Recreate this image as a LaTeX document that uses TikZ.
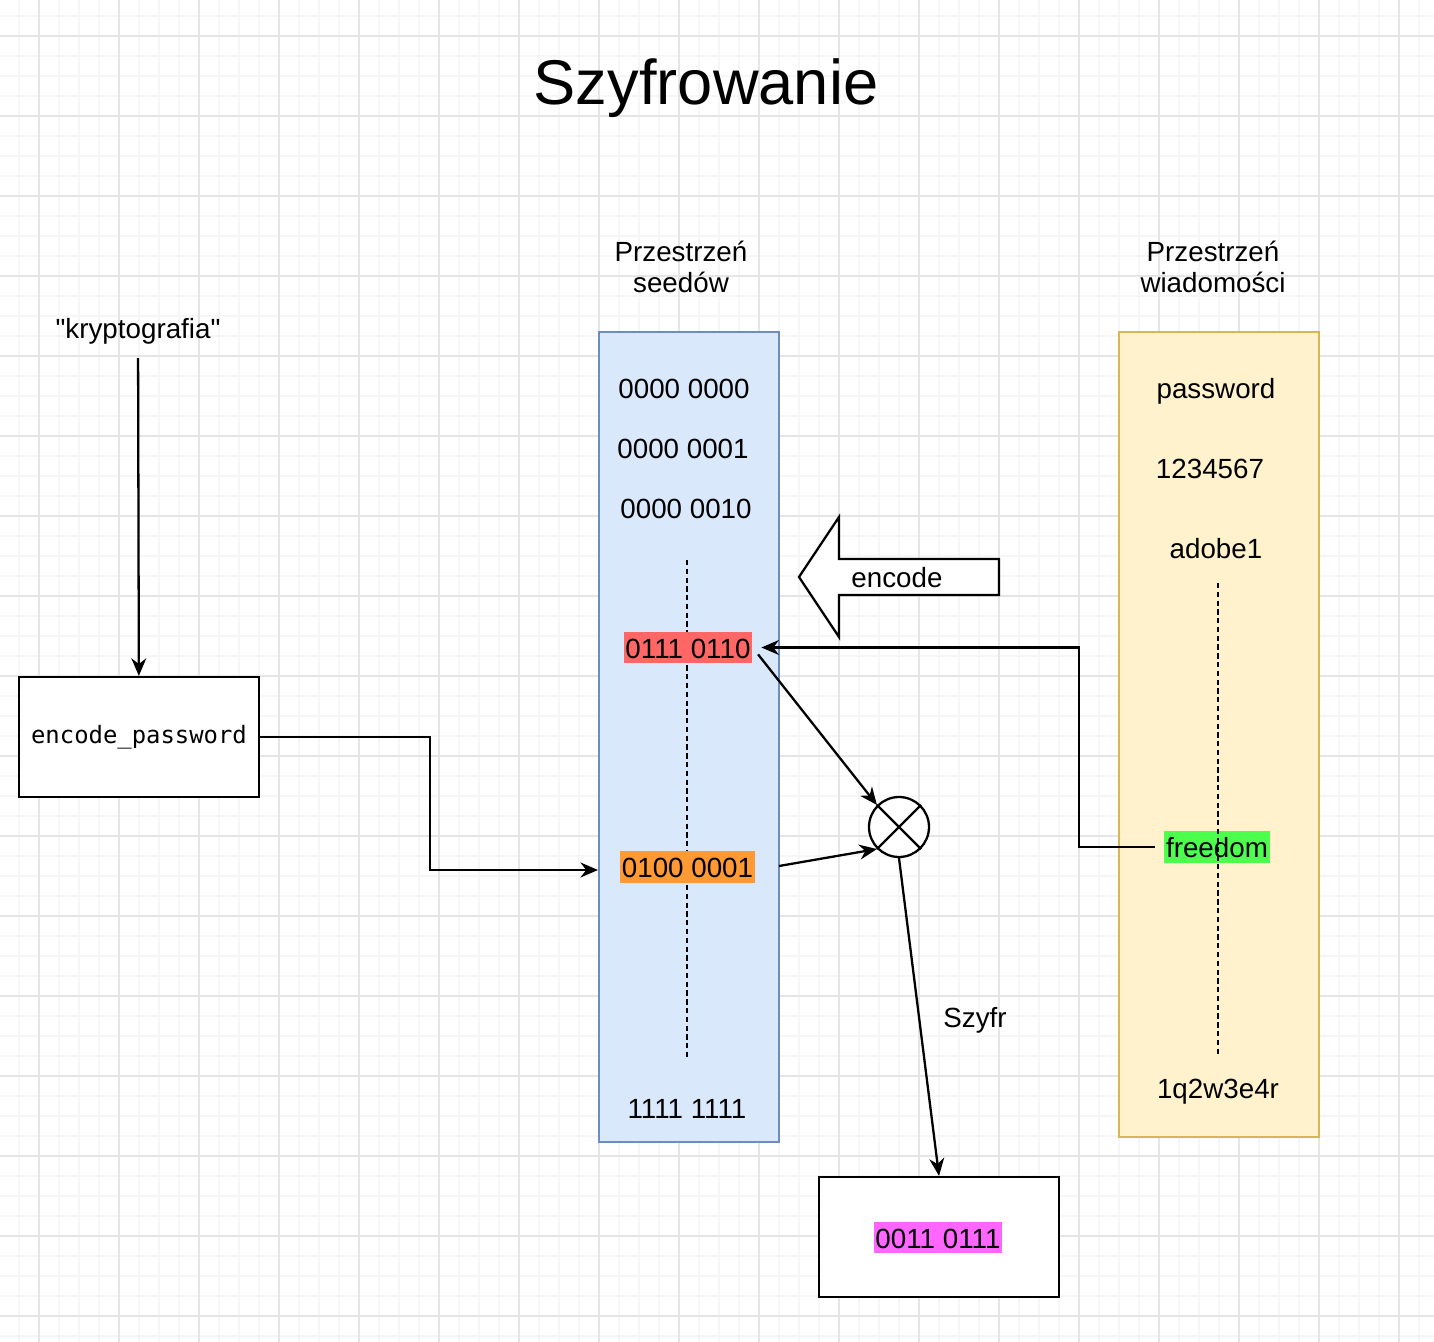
\documentclass[tikz,border=0pt]{standalone}
\usepackage{fontspec}
\setmainfont{Liberation Sans}[Ligatures=TeXOff]
\setmonofont{DejaVu Sans Mono}
\usetikzlibrary{arrows.meta}
\definecolor{seedfill}{HTML}{DAE8FC}
\definecolor{seedline}{HTML}{6C8EBF}
\definecolor{msgfill}{HTML}{FFF2CC}
\definecolor{msgline}{HTML}{D6B656}
\definecolor{hlred}{HTML}{FF6666}
\definecolor{hlorange}{HTML}{FF9933}
\definecolor{hlgreen}{HTML}{4DFF4D}
\definecolor{hlpink}{HTML}{FF66FF}

\begin{document}
\begin{tikzpicture}[
    x=0.02cm, y=-0.02cm,
    minor/.style={draw=gray!7, line width=1pt},
    major/.style={draw=gray!20, line width=1pt},
    lbl/.style={font=\fontsize{15.8}{18}\selectfont, inner sep=0pt},
    txt/.style={lbl, text height=15pt, text depth=3pt},
    hl/.style={txt, fill=#1, inner xsep=1pt},
    box/.style={draw, line width=1.3pt, fill=white, minimum width=4.8cm,
                minimum height=2.4cm},
    col/.style={line width=1.1pt, minimum width=3.6cm},
    arr/.style={-{Stealth[length=10pt, width=8.5pt]}, line width=1.3pt},
    dots/.style={line width=1.3pt, dash pattern=on 3pt off 2pt},
]
    \useasboundingbox (0,0) rectangle (1434,1342);
    \fill[white] (0,0) rectangle (1434,1342);
    \foreach \gx in {-1,19,...,1439} \draw[minor] (\gx,0) -- (\gx,1342);
    \foreach \gy in {-4,16,...,1342} \draw[minor] (0,\gy) -- (1434,\gy);
    \foreach \gx in {39,119,...,1434} \draw[major] (\gx,0) -- (\gx,1342);
    \foreach \gy in {36,116,...,1342} \draw[major] (0,\gy) -- (1434,\gy);

    \node[font=\fontsize{36}{40}\selectfont, inner sep=0pt] (title) at (706,88) {Szyfrowanie};

    \node[col, draw=seedline, fill=seedfill, minimum height=16.2cm] (seeds) at (689,737) {};
    \node[col, draw=msgline, fill=msgfill, minimum width=4cm, minimum height=16.1cm] (msgs) at (1219,734.5) {};

    \node[lbl, align=center] (seedlbl) at (681,267) {Przestrzeń\\seedów};
    \node[lbl, align=center] (msglbl)  at (1213,267) {Przestrzeń\\wiadomości};

    \draw[dots] (687,560) -- (687,1057);

    \node[txt] (s0)  at (684,388)  {0000 0000};
    \node[txt] (s1)  at (683,448)  {0000 0001};
    \node[txt] (s2)  at (686,508)  {0000 0010};
    \node[hl=hlred]    (red) at (688,647.5) {0111 0110};
    \node[hl=hlorange] (org) at (687.5,867) {0100 0001};
    \node[txt] (s255) at (687,1108) {1111 1111};

    \node[txt] (m0) at (1216,388)  {password};
    \node[txt] (m1) at (1210,468)  {1234567};
    \node[txt] (m2) at (1216,548)  {adobe1};
    \node[hl=hlgreen] (grn) at (1217,847) {freedom};
    \node[txt] (m9) at (1218,1088) {1q2w3e4r};

    \draw[dots] (1218,583) -- (1218,1057);

    \node[txt] (kw) at (138,328) {"kryptografia"};
    \node[box, font=\fontsize{13.6}{16}\ttfamily] (encpw) at (139,737) {encode\_password};
    \node[box] (out) at (939,1237) {};
    \node[hl=hlpink] (res) at (938,1237.5) {0011 0111};

    \draw[line width=1.3pt, fill=white] (799,577) -- (839,517) -- (839,559) -- (999,559)
        -- (999,595) -- (839,595) -- (839,637) -- cycle;
    \node[txt] (enc) at (897,577) {encode};

    \node[draw, circle, line width=1.3pt, fill=white, minimum size=1.2cm, inner sep=0pt] (xor) at (899,827) {};
    \draw[line width=1.3pt] (xor.north west) -- (xor.south east);
    \draw[line width=1.3pt] (xor.north east) -- (xor.south west);

    \node[txt] (szyfr) at (975,1017) {Szyfr};

    \draw[arr, shorten <=8pt] (kw) -- (encpw);
    \draw[arr] (encpw.east) -- ++(170,0) |- (seeds.west |- 0,870);
    \draw[arr, shorten <=5pt, shorten >=5pt] (grn.west) -- ++(-85,0) |- (red.east);
    \draw[arr, shorten <=5pt] (red.east) -- (xor.north west);
    \draw[arr] (779,866) -- (xor.south west);
    \draw[arr] (xor.south) -- (out.north);
\end{tikzpicture}
\end{document}
